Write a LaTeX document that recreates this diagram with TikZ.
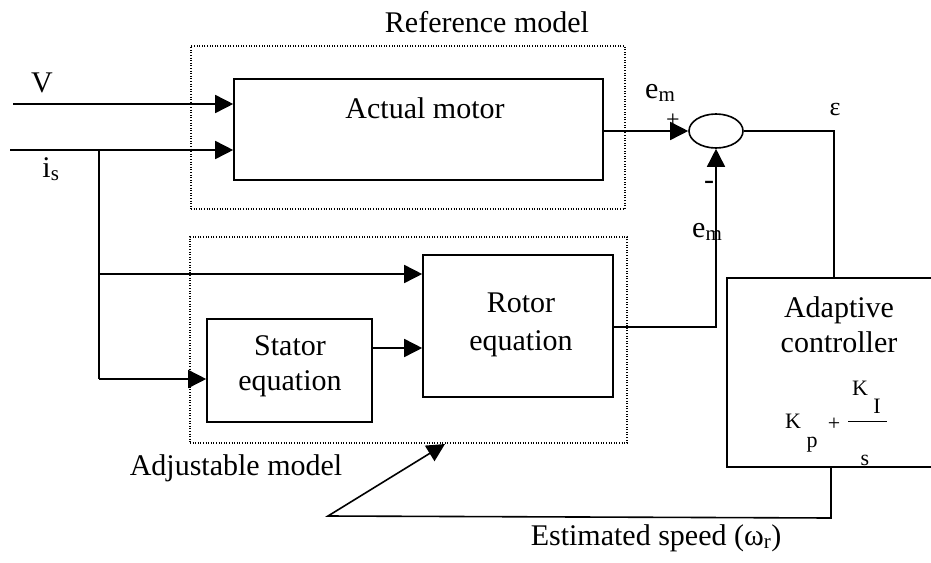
\documentclass[tikz,border=0pt]{standalone}
\usepackage{fontspec}
\setmainfont{Liberation Serif}
\usetikzlibrary{arrows.meta,shapes.geometric}
\begin{document}
\begin{tikzpicture}[x=1pt,y=-1pt,
  lbl/.style={font=\fontsize{30}{36}\selectfont, inner sep=0pt, anchor=base},
  small/.style={font=\fontsize{22}{26}\selectfont, inner sep=0pt, anchor=base},
  blk/.style={draw, line width=1.6pt, inner sep=0pt},
  dotbox/.style={draw, line width=1.3pt, dash pattern=on 1pt off 1.6pt, inner sep=0pt},
  wire/.style={line width=1.6pt},
  arr/.style={wire, -{Triangle[length=18pt,width=18pt]}},
]
\useasboundingbox (0,0) rectangle (931,562);

% boxes
\node[dotbox, minimum width=434pt, minimum height=163pt] (refbox) at (408,127.5) {};
\node[dotbox, minimum width=437pt, minimum height=206pt] (adjbox) at (408.5,340) {};
\node[blk, minimum width=369pt, minimum height=101pt] (motor) at (418.5,129.5) {};
\node[blk, minimum width=190pt, minimum height=142pt] (rotor) at (518,326) {};
\node[blk, minimum width=165pt, minimum height=103pt] (stator) at (289.5,370.5) {};
\node[blk, minimum width=220pt, minimum height=189pt] (ctrl) at (837,372.5) {};
\node[draw, ellipse, line width=1.6pt, minimum width=54pt, minimum height=34pt, inner sep=0pt] (sum) at (716,131) {};

% texts
\node[lbl] (reftxt) at (487,32) {Reference model};
\node[lbl] (mottxt) at (425,118) {Actual motor};
\node[lbl] (rot1) at (521,312) {Rotor};
\node[lbl] (rot2) at (521,350) {equation};
\node[lbl] (sta1) at (290,355) {Stator};
\node[lbl] (sta2) at (290,390) {equation};
\node[lbl] (ada1) at (839,317) {Adaptive};
\node[lbl] (ada2) at (839,352) {controller};
\node[lbl] (adjtxt) at (236,475) {Adjustable model};
\node[lbl] (esttxt) at (656,545) {Estimated speed (ω\textsubscript{r})};
\node[lbl] (vtxt) at (42,92) {V};
\node[lbl] (istxt) at (51,177) {i\textsubscript{s}};
\node[lbl, anchor=base west] (em1) at (645,98) {e\textsubscript{m}};
\node[lbl, anchor=base west] (em2) at (692,237) {e\textsubscript{m}};
\node[small, font=\fontsize{24}{28}\selectfont] (plus) at (673,127) {+};
\node[lbl] (minus) at (709,189) {-};
\node[small, font=\fontsize{26}{30}\selectfont] (eps) at (835,115) {ε};

% controller formula
\node[small] (kp1) at (793,428) {K};
\node[small] (kp2) at (812,447) {p};
\node[small] (kplus) at (834,430) {+};
\node[small] (ki1) at (860,395) {K};
\node[small] (ki2) at (877,413) {I};
\node[small] (kis) at (865,465) {s};
\coordinate (fl) at (848,421);
\coordinate (fr) at (887,421);
\draw[line width=1pt] (fl) -- (fr);

% connectors
\coordinate (vin) at (13,104);
\coordinate (iin) at (10,150);
\draw[arr] (vin) -- (vin -| motor.west);
\draw[arr] (iin) -- (iin -| motor.west);
\coordinate (br) at (99,150);
\coordinate (brlow) at (99,379);
\coordinate (brmid) at (99,274);
\draw[wire] (br) -- (brlow);
\draw[arr] (brlow) -- (brlow -| stator.west);
\draw[arr] (brmid) -- (brmid -| rotor.west);
\coordinate (sr) at (372,348);
\draw[arr] (sr -| stator.east) -- (sr -| rotor.west);
\coordinate (ro) at (613,327);
\draw[arr] (ro -| rotor.east) -| (sum.south);
\draw[arr] (sum.west -| motor.east) -- (sum.west);
\coordinate (ctop) at (834,0);
\draw[wire] (sum.east) -| (ctop |- ctrl.north);
\coordinate (cbot) at (831,518);
\coordinate (fbl) at (328,516);
\coordinate (ftip) at (445,444);
\draw[arr] (cbot |- ctrl.south) -- (cbot) -- (fbl) -- (ftip);
\end{tikzpicture}
\end{document}
